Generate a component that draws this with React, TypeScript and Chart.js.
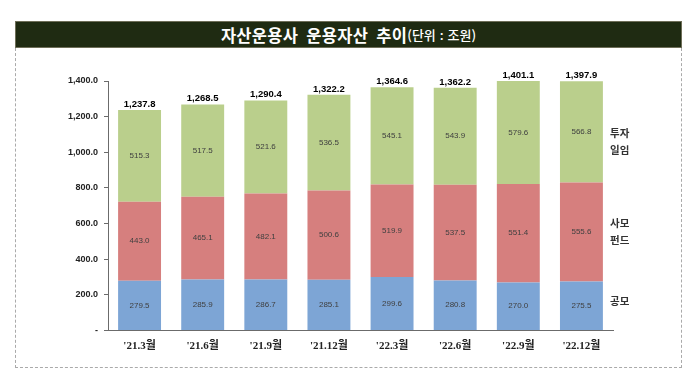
import React, { useEffect, useRef } from "react";
import { Chart, registerables } from "chart.js";

Chart.register(...registerables);

const categories = ["'21.3월", "'21.6월", "'21.9월", "'21.12월", "'22.3월", "'22.6월", "'22.9월", "'22.12월"];
const publicFunds = [279.5, 285.9, 286.7, 285.1, 299.6, 280.8, 270.0, 275.5];
const privateFunds = [443.0, 465.1, 482.1, 500.6, 519.9, 537.5, 551.4, 555.6];
const discretionary = [515.3, 517.5, 521.6, 536.5, 545.1, 543.9, 579.6, 566.8];
const totals = [1237.8, 1268.5, 1290.4, 1322.2, 1364.6, 1362.2, 1401.1, 1397.9];
const seriesNames = ["공모", "사모펀드", "투자일임"];
const sideLabels = [
  { lines: ["투자", "일임"], value: 1060 },
  { lines: ["사모", "펀드"], value: 555 },
  { lines: ["공모"], value: 165 },
];
const yTicks = [0, 200, 400, 600, 800, 1000, 1200, 1400];

const fmt = (v: number) =>
  v.toLocaleString("en-US", { minimumFractionDigits: 1, maximumFractionDigits: 1 });

const labelPlugin = {
  id: "labels",
  afterDatasetsDraw(chart: any) {
    const ctx = chart.ctx;
    ctx.save();
    ctx.textAlign = "center";
    ctx.textBaseline = "middle";
    ctx.font = "8px 'Liberation Sans', Arial, sans-serif";
    ctx.fillStyle = "#404040";
    chart.data.datasets.forEach((ds: any, di: number) => {
      const meta = chart.getDatasetMeta(di);
      meta.data.forEach((el: any, i: number) => {
        const cy = (el.y + el.base) / 2;
        ctx.fillText(fmt(ds.data[i]), el.x, cy);
      });
    });
    const top = chart.getDatasetMeta(chart.data.datasets.length - 1);
    ctx.font = "bold 9.5px 'Liberation Sans', Arial, sans-serif";
    ctx.fillStyle = "#000";
    ctx.textBaseline = "bottom";
    top.data.forEach((el: any, i: number) => {
      ctx.fillText(fmt(totals[i]), el.x, el.y - 1);
    });
    const yScale = chart.scales.y;
    const x = chart.chartArea.right - 3;
    ctx.font = "bold 10.5px 'Noto Sans CJK KR', sans-serif";
    ctx.fillStyle = "#333";
    ctx.textAlign = "left";
    ctx.textBaseline = "middle";
    sideLabels.forEach((s) => {
      const cy = yScale.getPixelForValue(s.value);
      const lh = 17;
      const start = cy - ((s.lines.length - 1) * lh) / 2;
      s.lines.forEach((ln, k) => ctx.fillText(ln, x, start + k * lh));
    });
    ctx.restore();
  },
};

export default function App() {
  const ref = useRef<HTMLCanvasElement>(null);
  useEffect(() => {
    if (!ref.current) return;
    const chart = new Chart(ref.current, {
      type: "bar",
      data: {
        labels: categories,
        datasets: [
          { label: seriesNames[0], data: publicFunds, backgroundColor: "#7da5d5" },
          { label: seriesNames[1], data: privateFunds, backgroundColor: "#d67f7e" },
          { label: seriesNames[2], data: discretionary, backgroundColor: "#bacf8c" },
        ],
      },
      options: {
        animation: false,
        responsive: false,
        layout: { padding: { left: 0, right: 87, top: 81, bottom: 16 } },
        plugins: { legend: { display: false }, tooltip: { enabled: false } },
        datasets: { bar: { barPercentage: 0.68, categoryPercentage: 1 } },
        scales: {
          x: {
            stacked: true,
            grid: { display: false, drawTicks: false },
            border: { color: "#6b6b6b", width: 1 },
            ticks: {
              color: "#222",
              padding: 9,
              font: { size: 11, weight: "bold", family: "'Liberation Serif', 'Noto Sans CJK KR', serif" },
            },
            afterFit: (s: any) => { s.height = 30.5; },
          },
          y: {
            stacked: true,
            min: 0,
            max: 1400,
            afterBuildTicks: (s: any) => { s.ticks = yTicks.map((v) => ({ value: v })); },
            grid: { drawOnChartArea: false, tickLength: 4, color: "#6b6b6b" },
            border: { color: "#6b6b6b", width: 1 },
            ticks: {
              color: "#222",
              padding: 6,
              font: { size: 9, weight: "bold", family: "'Liberation Sans', Arial, sans-serif" },
              callback: (v: any) => (Number(v) === 0 ? "-" : fmt(Number(v))),
            },
            afterFit: (s: any) => { s.width = 108; },
          },
        },
      },
      plugins: [labelPlugin],
    });
    return () => chart.destroy();
  }, []);

  return (
    <div style={{ position: "fixed", left: 0, top: 0, width: 700, height: 377, background: "#fff" }}>
      <div
        style={{
          position: "absolute", left: 15, top: 21, width: 665, height: 25,
          background: "#1f2b12", border: "1px solid #6e6e58",
          display: "flex", alignItems: "center", justifyContent: "center",
          color: "#fff", fontFamily: "'Noto Sans CJK KR', sans-serif", fontWeight: 700,
        }}
      >
        <span style={{ fontSize: 16.5, wordSpacing: 4, letterSpacing: 0.3 }}>자산운용사 운용자산 추이</span>
        <span style={{ fontSize: 13, fontWeight: 500, wordSpacing: 1 }}>(단위 : 조원)</span>
      </div>
      <div
        style={{
          position: "absolute", left: 15, top: 48, width: 665, height: 319,
          borderLeft: "1px dashed #aaa", borderRight: "1px dashed #aaa", borderBottom: "1px dashed #aaa",
        }}
      />
      <canvas ref={ref} width={700} height={377} style={{ position: "absolute", left: 0, top: 0, width: 700, height: 377 }} />
    </div>
  );
}
